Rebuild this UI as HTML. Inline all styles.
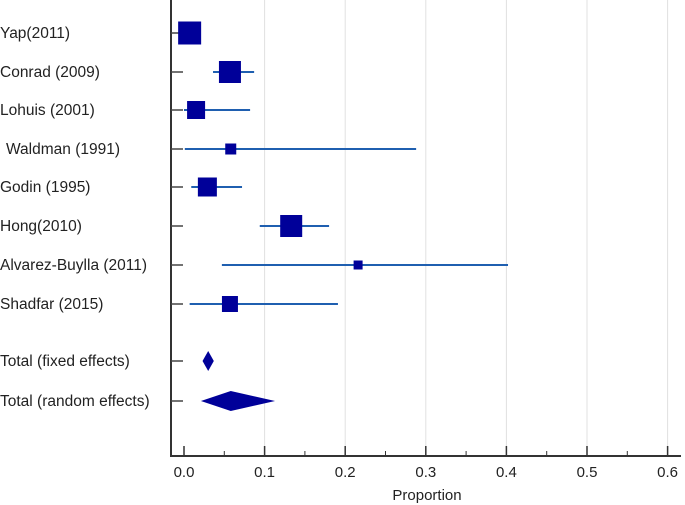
<!DOCTYPE html>
<html><head><meta charset="utf-8"><style>
body{margin:0;background:#fff;}
svg{display:block;font-family:"Liberation Sans",Arial,sans-serif;}
</style></head><body>
<svg id="chart" width="685" height="505" viewBox="0 0 685 505"></svg>
<script>
const studies=["Yap(2011)","Conrad (2009)","Lohuis (2001)","Waldman (1991)","Godin (1995)","Hong(2010)","Alvarez-Buylla (2011)","Shadfar (2015)"];
const estimates=[0.007,0.057,0.015,0.058,0.029,0.133,0.216,0.057];
const lower=[0.0,0.036,0.0,0.001,0.009,0.094,0.047,0.007];
const upper=[0.02,0.087,0.082,0.288,0.072,0.18,0.402,0.191];
const boxSizes=[23,22,18,11,19,22,9,16];
const totals=["Total (fixed effects)","Total (random effects)"];
const totalEst=[0.030,0.058];
const totalLow=[0.023,0.021];
const totalHigh=[0.037,0.113];
const ticks=[0,0.1,0.2,0.3,0.4,0.5,0.6];
const tickLabels=["0.0","0.1","0.2","0.3","0.4","0.5","0.6"];
const NS="http://www.w3.org/2000/svg";
const svg=document.getElementById('chart');
const x=v=>184+v*806;
const rowY=[33,72,110,149,187,226,265,304,361,401];
function el(t,a,txt){const e=document.createElementNS(NS,t);for(const k in a)e.setAttribute(k,a[k]);if(txt!==undefined)e.textContent=txt;svg.appendChild(e);return e;}
ticks.forEach((t,i)=>{if(t>0){const g=el('line',{x1:x(t),x2:x(t),y1:0,y2:455,stroke:'#e0e0e0','stroke-width':1});

}});
const ax=el('line',{x1:171,x2:681,y1:456,y2:456,stroke:'#333','stroke-width':2});


const ay=el('line',{x1:171,x2:171,y1:0,y2:457,stroke:'#333','stroke-width':2});


ticks.forEach((t,i)=>{
 const tk=el('line',{x1:x(t),x2:x(t),y1:446,y2:456,stroke:'#333','stroke-width':1.5});
 
 
 if(i<ticks.length-1){const m=el('line',{x1:x(t+0.05),x2:x(t+0.05),y1:451,y2:456,stroke:'#333','stroke-width':1});
 
 }
 const l=el('text',{x:x(t),y:477,'text-anchor':'middle','font-size':15,fill:'#222'},tickLabels[i]);
 
 
});
const xt=el('text',{x:427,y:500,'text-anchor':'middle','font-size':15,fill:'#222'},'Proportion');


const labels=studies.concat(totals);
labels.forEach((s,i)=>{
 const y=rowY[i];
 const st=el('line',{x1:171,x2:183,y1:y,y2:y,stroke:'#444','stroke-width':1.5});
 
 
 const t=el('text',{x:i===3?6:0,y:y+5,'font-size':15.5,fill:'#222'},s);
 
 
});
studies.forEach((s,i)=>{
 const y=rowY[i];
 const ci=el('line',{x1:x(lower[i]),x2:x(upper[i]),y1:y,y2:y,stroke:'#1f5fb0','stroke-width':2});
 
 
 const b=boxSizes[i];
 const r=el('rect',{x:x(estimates[i])-b/2,y:y-b/2,width:b,height:b,fill:'#000099'});
 
 
});
totals.forEach((s,i)=>{
 const y=rowY[8+i];const h=10;
 const d=el('polygon',{points:`${x(totalLow[i])},${y} ${x(totalEst[i])},${y-h} ${x(totalHigh[i])},${y} ${x(totalEst[i])},${y+h}`,fill:'#000099'});
 
 
});
</script>
</body></html>
